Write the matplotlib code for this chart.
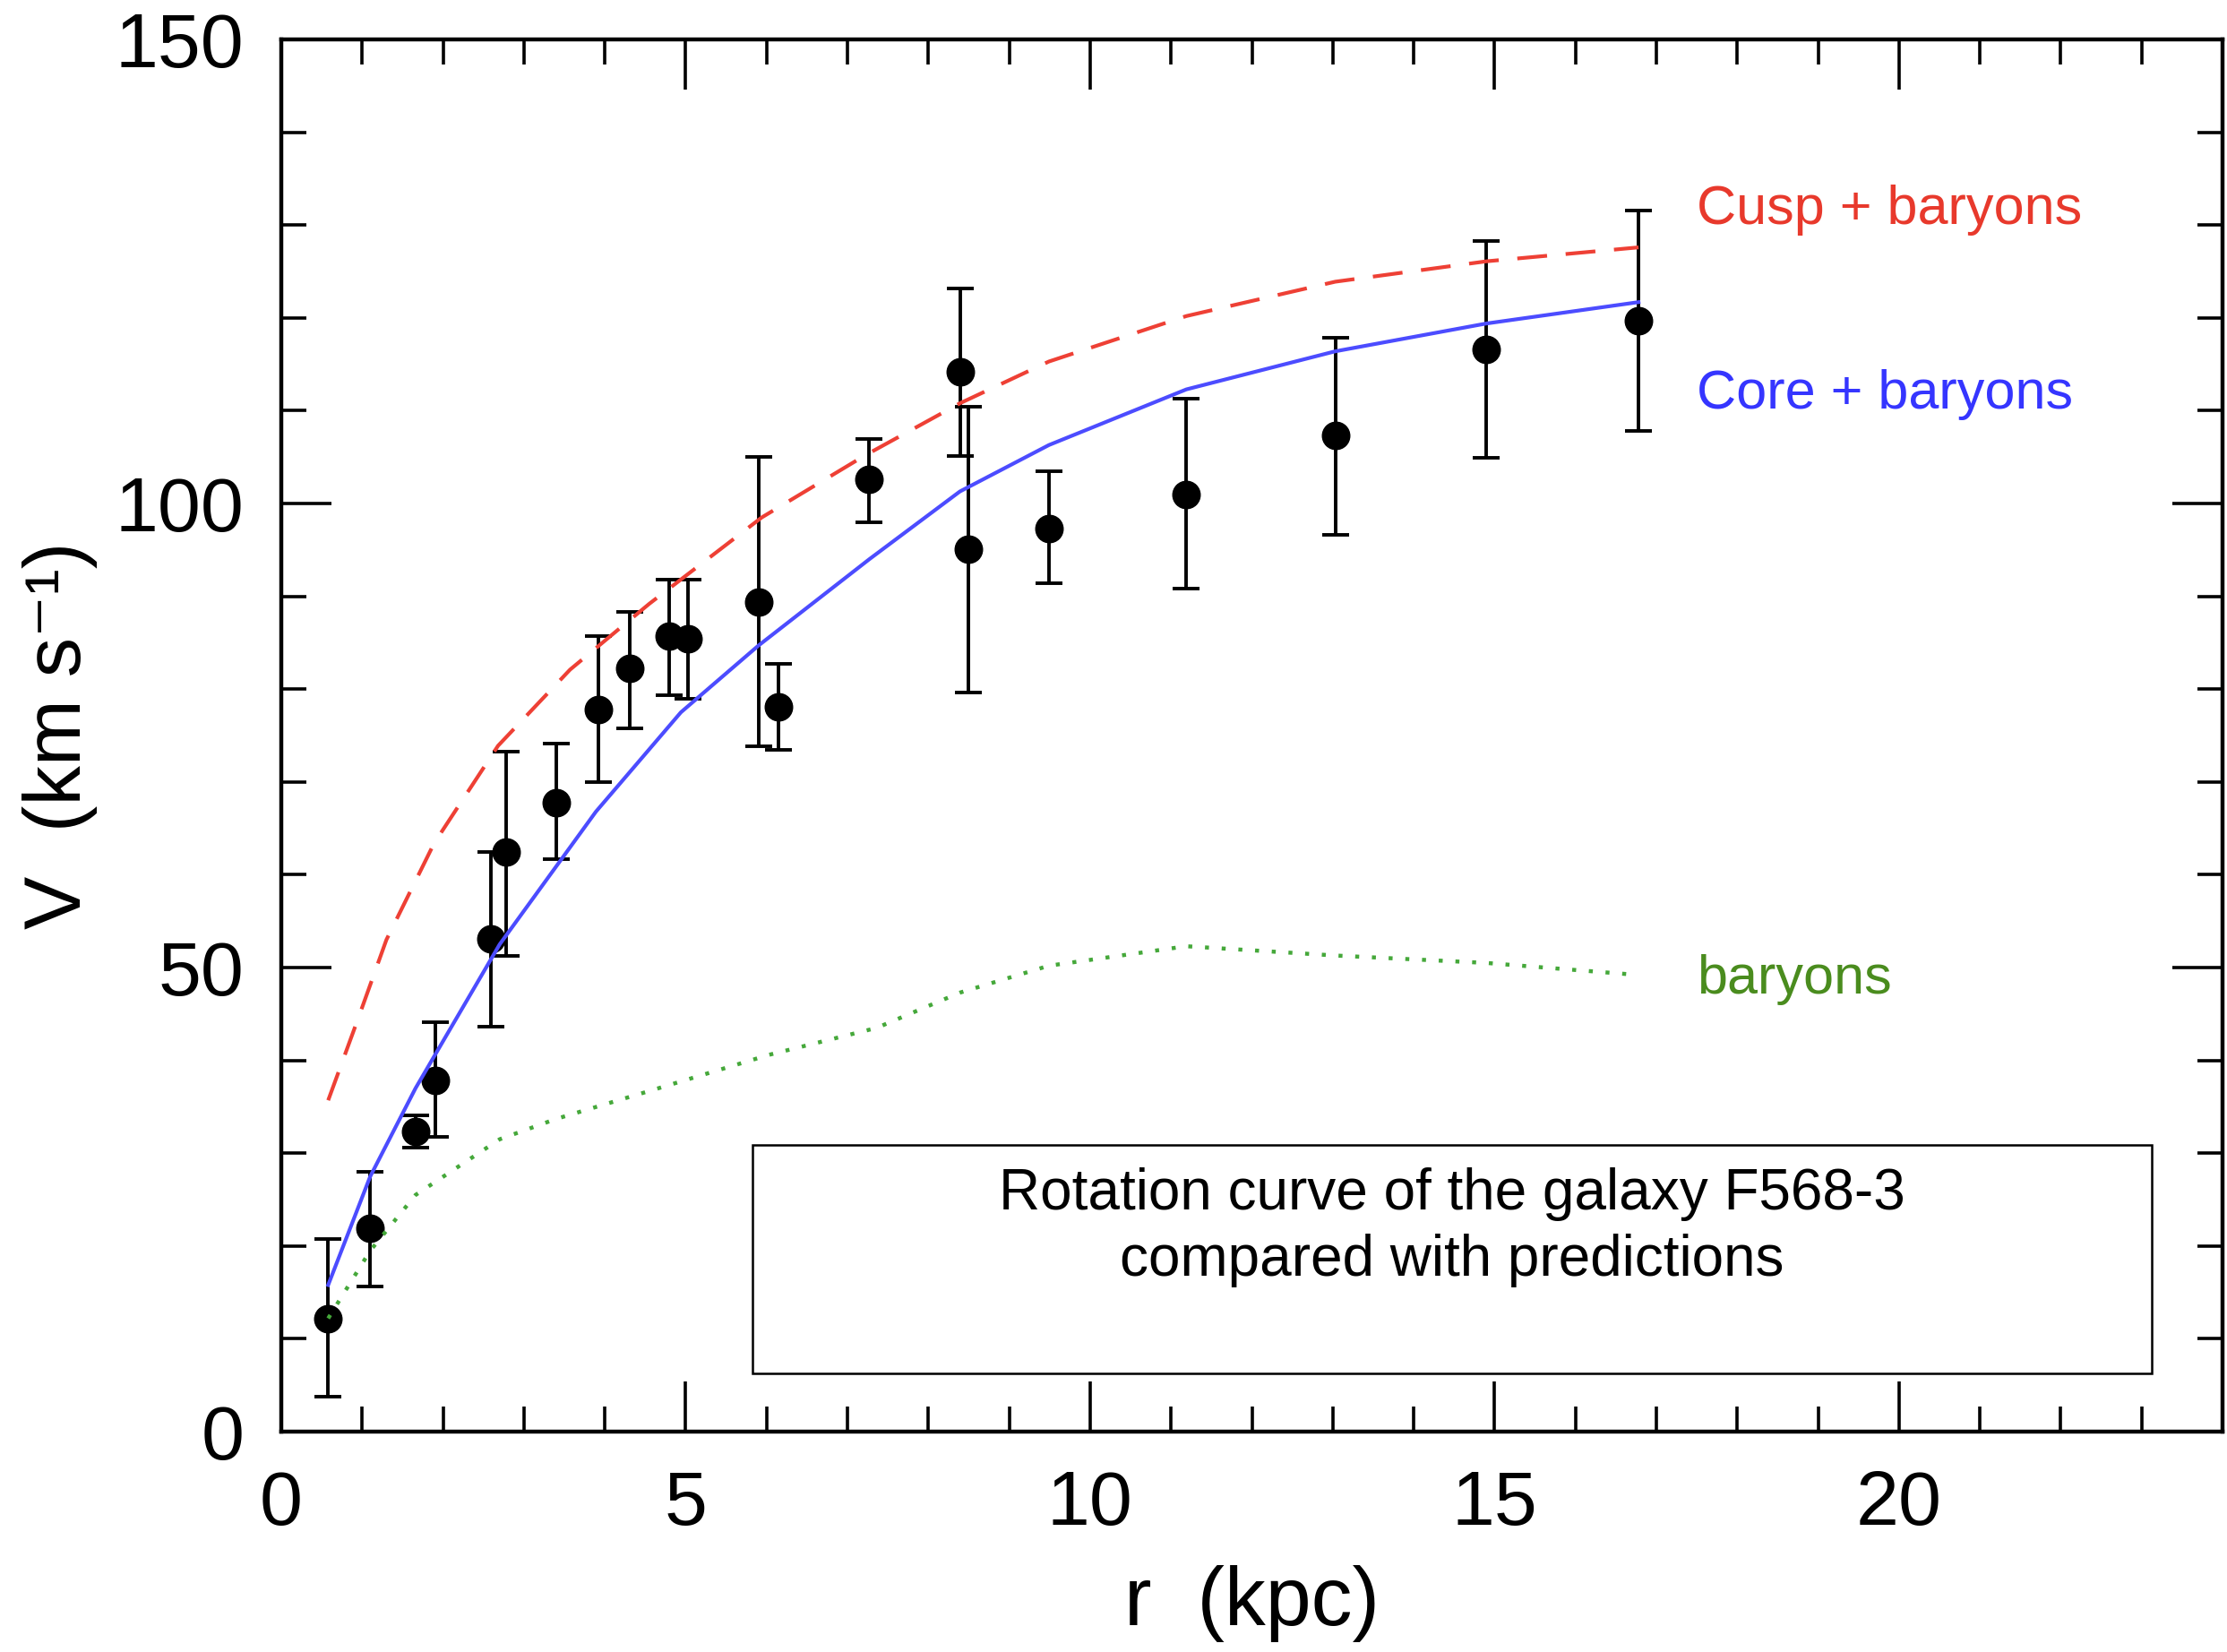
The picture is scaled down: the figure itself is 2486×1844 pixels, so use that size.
import matplotlib
matplotlib.use("Agg")
import matplotlib.pyplot as plt
from matplotlib.ticker import MultipleLocator
from matplotlib.patches import Rectangle

# observed rotation curve of F568-3
r_obs = [0.58, 1.10, 1.66, 1.91, 2.59, 2.78, 3.40, 3.92, 4.31, 4.80, 5.03,
         5.90, 6.15, 7.27, 8.39, 8.49, 9.49, 11.19, 13.03, 14.90, 16.78]
v_obs = [12.2, 21.9, 32.3, 37.8, 53.1, 62.5, 67.8, 77.8, 82.2, 85.7, 85.4,
         89.4, 78.1, 102.6, 114.2, 95.1, 97.3, 101.0, 107.3, 116.6, 119.7]
v_lo = [3.8, 15.6, 30.6, 31.8, 43.6, 51.3, 61.7, 70.0, 75.8, 79.3, 79.0,
        73.8, 73.5, 98.0, 105.1, 79.6, 91.4, 90.8, 96.6, 104.9, 107.8]
v_hi = [20.8, 28.0, 34.1, 44.1, 62.5, 73.3, 74.1, 85.7, 88.3, 91.8, 91.8,
        105.0, 82.7, 107.0, 123.2, 110.4, 103.5, 111.3, 117.9, 128.3, 131.6]

# model curves
r_cusp = [0.58, 0.95, 1.30, 1.89, 2.68, 3.57, 4.55, 5.94, 7.22, 8.39,
          9.49, 11.19, 13.03, 14.90, 16.78]
v_cusp = [35.7, 44.5, 53.0, 63.4, 73.9, 82.1, 89.2, 98.5, 105.2, 110.8,
          115.3, 120.2, 123.9, 126.1, 127.6]

r_core = [0.58, 1.10, 1.66, 2.70, 3.89, 4.94, 5.90, 7.27, 8.39, 9.49,
          11.19, 13.03, 14.90, 16.78]
v_core = [15.8, 27.5, 37.0, 52.5, 66.8, 77.5, 84.7, 94.0, 101.3, 106.3,
          112.3, 116.4, 119.4, 121.7]

r_bar = [0.58, 1.10, 1.66, 2.70, 3.40, 4.55, 6.03, 7.36, 8.39, 9.49,
         11.19, 13.03, 14.90, 16.78]
v_bar = [12.2, 19.5, 25.5, 31.5, 33.7, 36.7, 40.6, 43.5, 47.3, 50.2,
         52.3, 51.3, 50.5, 49.2]

plt.rcParams['font.family'] = ['Liberation Sans', 'DejaVu Sans']

fig = plt.figure(figsize=(24.86, 18.44), dpi=100)
ax = fig.add_axes([0.1263, 0.1334, 0.8717, 0.8427])

yerr = [[v - lo for v, lo in zip(v_obs, v_lo)], [hi - v for v, hi in zip(v_obs, v_hi)]]
ax.errorbar(r_obs, v_obs, yerr=yerr, fmt='o', color='black', ms=22,
            elinewidth=2.8, capsize=11, capthick=2.8, zorder=2)

ax.plot(r_cusp, v_cusp, color='#ee4035', lw=3.0, dashes=(8, 5), zorder=3)
ax.plot(r_core, v_core, color='#4c4cff', lw=3.0, zorder=3)
ax.plot(r_bar, v_bar, color='#45a83a', lw=3.2, linestyle=(0, (1, 3.2)), zorder=3)

ax.text(17.5, 131.6, 'Cusp + baryons', color='#e8392c', fontsize=44, ha='left', va='center')
ax.text(17.5, 111.7, 'Core + baryons', color='#3535ff', fontsize=44, ha='left', va='center')
ax.text(17.5, 48.7, 'baryons', color='#4a8c1e', fontsize=44, ha='left', va='center')

ax.add_patch(Rectangle((5.83, 6.3), 17.29, 24.6, fill=False, ec='black', lw=1.8, zorder=4))
ax.text(14.47, 22.0, 'Rotation curve of the galaxy F568-3\ncompared with predictions',
        fontsize=46, ha='center', va='center', linespacing=1.3)

ax.set_xlim(0, 24)
ax.set_ylim(0, 150)
ax.xaxis.set_major_locator(MultipleLocator(5))
ax.xaxis.set_minor_locator(MultipleLocator(1))
ax.yaxis.set_major_locator(MultipleLocator(50))
ax.yaxis.set_minor_locator(MultipleLocator(10))
ax.tick_params(which='both', direction='in', top=True, right=True, width=2.6)
ax.tick_params(which='major', length=40, labelsize=62, pad=30)
ax.tick_params(which='minor', length=20)
for s in ax.spines.values():
    s.set_linewidth(3.2)

ax.set_xlabel('r  (kpc)', fontsize=66, labelpad=20)
ax.set_ylabel('V  (km s⁻¹)', fontsize=64, labelpad=14)

fig.savefig('out.png', dpi=100)
